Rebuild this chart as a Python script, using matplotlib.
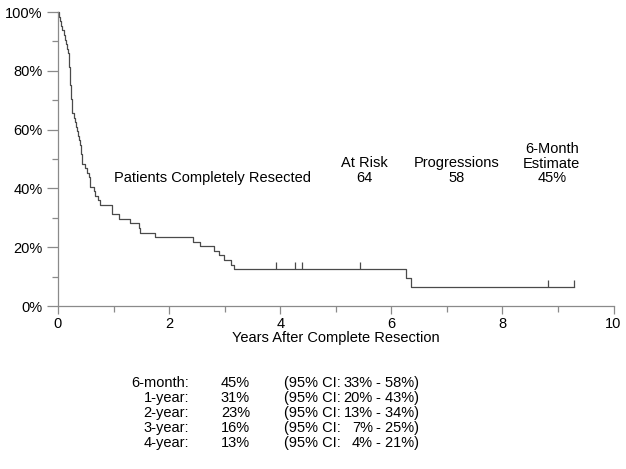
import matplotlib
matplotlib.use('Agg')
import matplotlib.pyplot as plt
from matplotlib.ticker import MultipleLocator, FuncFormatter

plt.rcParams['font.family'] = ['Liberation Sans', 'DejaVu Sans']

# step times (years) and progression-free % after each step
step_t = [0, 0.02, 0.04, 0.06, 0.08, 0.10, 0.12, 0.14, 0.16, 0.18, 0.19,
          0.20, 0.205, 0.21, 0.215, 0.22, 0.225, 0.23, 0.235, 0.24, 0.245,
          0.25, 0.255, 0.29, 0.31, 0.32, 0.35, 0.36, 0.38, 0.40, 0.41,
          0.42, 0.43, 0.44, 0.49, 0.52, 0.55, 0.57, 0.58, 0.64, 0.67,
          0.72, 0.76, 0.97, 1.09, 1.30, 1.45, 1.48, 1.75, 2.43, 2.56,
          2.81, 2.89, 2.99, 3.11, 3.17, 6.26, 6.35]
step_s = [100, 98.4, 96.9, 95.3, 93.8, 92.2, 90.6, 89.1, 87.5, 85.9, 84.4,
          82.8, 81.3, 79.7, 78.1, 76.6, 75.0, 73.4, 71.9, 70.3, 68.8,
          67.2, 65.6, 64.1, 62.5, 60.9, 59.4, 57.8, 56.3, 54.7, 53.1,
          51.6, 50.0, 48.4, 46.9, 45.3, 43.8, 42.2, 40.6, 39.1, 37.5,
          35.9, 34.4, 31.3, 29.7, 28.1, 26.6, 25.0, 23.4, 21.9, 20.3,
          18.8, 17.2, 15.6, 14.1, 12.5, 9.4, 6.3]
last_t = 9.29

# censored patients
cens_t = [3.93, 4.27, 4.40, 5.44, 8.82, 9.29]
cens_s = [12.5, 12.5, 12.5, 12.5, 6.3, 6.3]

at_risk = 64
progressions = 58
est_6m = '45%'

tbl_labels = ['6-month:', '1-year:', '2-year:', '3-year:', '4-year:']
tbl_est = ['45%', '31%', '23%', '16%', '13%']
tbl_lo = ['33%', '20%', '13%', '7%', '4%']
tbl_hi = ['58%', '43%', '34%', '25%', '21%']

W, H = 626, 469
fig = plt.figure(figsize=(W / 100, H / 100), dpi=100)
ax = fig.add_axes([58 / W, 1 - 306 / H, (613.5 - 58) / W, (306 - 12) / H])

grey = '#8a8a8a'
curve_c = '#4a4a4a'
fs = 10.5

ax.step(step_t + [last_t], step_s + [step_s[-1]], where='post',
        color=curve_c, lw=0.9, clip_on=False)
ax.vlines(cens_t, cens_s, [s + 2.4 for s in cens_s], color=curve_c, lw=0.9)

ax.set_xlim(0, 10)
ax.set_ylim(0, 100)
for sp in ['top', 'right']:
    ax.spines[sp].set_visible(False)
for sp in ['left', 'bottom']:
    ax.spines[sp].set_color(grey)
    ax.spines[sp].set_linewidth(0.9)

ax.xaxis.set_major_locator(MultipleLocator(2))
ax.xaxis.set_minor_locator(MultipleLocator(1))
ax.yaxis.set_major_locator(MultipleLocator(20))
ax.yaxis.set_minor_locator(MultipleLocator(10))
ax.yaxis.set_major_formatter(FuncFormatter(lambda v, p: '%d%%' % v))
ax.tick_params(axis='both', which='both', direction='out', color=grey,
               width=0.9, labelsize=fs, labelcolor='black')
ax.tick_params(axis='x', which='major', length=6, pad=2)
ax.tick_params(axis='x', which='minor', length=4)
ax.tick_params(axis='y', which='major', length=8, pad=3)
ax.tick_params(axis='y', which='minor', length=4.5)
ax.set_xlabel('Years After Complete Resection', fontsize=fs, labelpad=0)

# legend-like annotations inside the plot
ax.text(2.79, 43.5, 'Patients Completely Resected', ha='center', va='center', fontsize=fs)
ax.text(5.51, 46.0, 'At Risk\n%d' % at_risk, ha='center', va='center',
        fontsize=fs, linespacing=1.05)
ax.text(7.18, 46.0, 'Progressions\n%d' % progressions, ha='center', va='center',
        fontsize=fs, linespacing=1.05)
ax.text(8.89, 48.4, '6-Month\nEstimate\n%s' % est_6m, ha='center', va='center',
        fontsize=fs, linespacing=1.05)

# summary table below the chart
for i in range(len(tbl_labels)):
    y = 1 - (383 + 15 * i) / H
    fig.text(189 / W, y, tbl_labels[i], ha='right', va='center', fontsize=fs)
    fig.text(250 / W, y, tbl_est[i], ha='right', va='center', fontsize=fs)
    fig.text(284 / W, y, '(95% CI:', ha='left', va='center', fontsize=fs)
    fig.text(373 / W, y, tbl_lo[i], ha='right', va='center', fontsize=fs)
    fig.text(376 / W, y, '- %s)' % tbl_hi[i], ha='left', va='center', fontsize=fs)

fig.savefig('out.png', dpi=100)
